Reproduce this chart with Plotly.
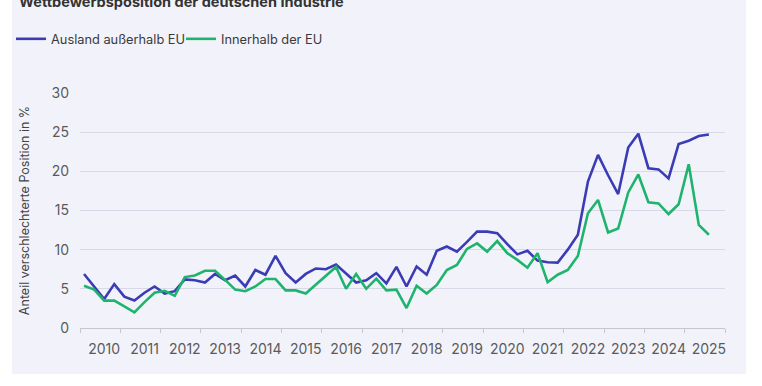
import plotly.graph_objects as go

# ---- data (quarterly, 2009Q3 .. 2025Q1) ----
quarters = [f"{y}Q{q}" for y in range(2009, 2026) for q in range(1, 5)]
quarters = quarters[quarters.index("2009Q3"):quarters.index("2025Q1") + 1]

ausland_ausserhalb_eu = [
    6.9, 5.3, 3.7, 5.6, 4.0, 3.5, 4.5, 5.3, 4.4, 4.7,
    6.2, 6.1, 5.8, 6.9, 6.1, 6.7, 5.3, 7.4, 6.8, 9.2,
    7.0, 5.8, 6.9, 7.6, 7.5, 8.1, 7.0, 5.8, 6.1, 7.0,
    5.7, 7.8, 5.3, 7.85, 6.8, 9.85, 10.4, 9.75, 11.0, 12.3,
    12.3, 12.1, 10.7, 9.4, 9.85, 8.6, 8.4, 8.35, 10.0, 11.9,
    18.7, 22.1, 19.5, 17.1, 23.05, 24.8, 20.4, 20.25, 19.1, 23.5,
    23.9, 24.5, 24.7,
]
innerhalb_eu = [
    5.4, 4.9, 3.5, 3.5, 2.75, 2.0, 3.3, 4.5, 4.75, 4.1,
    6.5, 6.7, 7.3, 7.3, 6.15, 4.9, 4.7, 5.3, 6.25, 6.25,
    4.8, 4.8, 4.4, 5.5, 6.7, 7.8, 5.0, 6.9, 5.0, 6.3,
    4.8, 4.9, 2.55, 5.4, 4.4, 5.5, 7.4, 8.05, 10.1, 10.8,
    9.75, 11.1, 9.55, 8.7, 7.7, 9.55, 5.85, 6.8, 7.4, 9.2,
    14.65, 16.35, 12.2, 12.7, 17.3, 19.6, 16.05, 15.9, 14.55, 15.8,
    20.9, 13.15, 11.9,
]
year_labels = [str(y) for y in range(2010, 2026)]
y_ticks = [0, 5, 10, 15, 20, 25, 30]

title_text = "Wettbewerbsposition der deutschen Industrie"
y_title = "Anteil verschlechterte Position in %"
series_names = ["Ausland außerhalb EU", "Innerhalb der EU"]

# decimal-year position of each quarter
xpos = [int(q[:4]) + (int(q[-1]) - 1) / 4 for q in quarters]

# ---- layout geometry (pixels) ----
W, H = 762, 386
ML, MR, MT, MB = 80, 37, 93, 58
PW, PH = W - ML - MR, H - MT - MB


def px_x(p):
    return (p - ML) / PW


def px_y(p):
    return (H - MB - p) / PH


BLUE = "#3b3bb5"
GREEN = "#1fb46e"
BG = "#f2f3fa"
GRID = "#d8d9e6"
AXIS = "#c5c6d2"
TXT = "#5a5a5a"

x_range = [2009.4, 2025.4]
boundary_ticks = [2009.4 + k for k in range(17)]

fig = go.Figure()
fig.add_trace(go.Scatter(x=xpos, y=ausland_ausserhalb_eu, name=series_names[0],
                         mode="lines", line=dict(color=BLUE, width=2.6)))
fig.add_trace(go.Scatter(x=xpos, y=innerhalb_eu, name=series_names[1],
                         mode="lines", line=dict(color=GREEN, width=2.6)))
# empty trace to carry the tick-mark axis
fig.add_trace(go.Scatter(x=[], y=[], xaxis="x2", showlegend=False, hoverinfo="skip"))

fig.update_layout(
    width=W, height=H,
    margin=dict(l=ML, r=MR, t=MT, b=MB, pad=0, autoexpand=False),
    paper_bgcolor="white",
    plot_bgcolor=BG,
    font=dict(family="Inter, Noto Sans, sans-serif", color=TXT),
    showlegend=True,
    legend=dict(
        orientation="h", x=px_x(11), y=px_y(39), xanchor="left", yanchor="middle",
        bgcolor="rgba(0,0,0,0)", font=dict(size=12.8, color="#3a3a3a"),
        entrywidth=125, entrywidthmode="pixels", itemwidth=30,
    ),
    xaxis=dict(
        range=x_range, tickmode="array", tickvals=list(range(2010, 2026)),
        ticktext=year_labels, ticks="", showgrid=False, zeroline=False,
        showline=True, linecolor=AXIS, linewidth=1,
        tickfont=dict(size=14, color=TXT), ticklabelstandoff=8,
        fixedrange=True,
    ),
    xaxis2=dict(
        range=x_range, overlaying="x", anchor="y", side="bottom",
        tickmode="array", tickvals=boundary_ticks, ticks="outside",
        ticklen=4, tickcolor=AXIS, tickwidth=1, showticklabels=False,
        showgrid=False, zeroline=False, showline=False,
    ),
    yaxis=dict(
        range=[0, 30], tickmode="array", tickvals=y_ticks,
        showgrid=True, gridcolor=GRID, gridwidth=1, zeroline=False,
        ticks="", tickfont=dict(size=14, color=TXT), ticklabelstandoff=10,
        title=dict(text=y_title, font=dict(size=12.5, color="#444444"), standoff=19),
        fixedrange=True,
    ),
    shapes=[
        dict(type="rect", xref="paper", yref="paper", layer="below",
             x0=px_x(12), x1=px_x(746), y0=px_y(374), y1=px_y(-5),
             fillcolor=BG, line=dict(width=0)),
    ],
    annotations=[
        dict(text=f"<b>{title_text}</b>", xref="paper", yref="paper",
             x=px_x(17), y=px_y(1.5), xanchor="left", yanchor="middle",
             showarrow=False, font=dict(size=14.5, color="#333333")),
    ],
)

fig.write_html("out.html", config={"displayModeBar": False},
               post_script="document.body.style.margin='0';")
